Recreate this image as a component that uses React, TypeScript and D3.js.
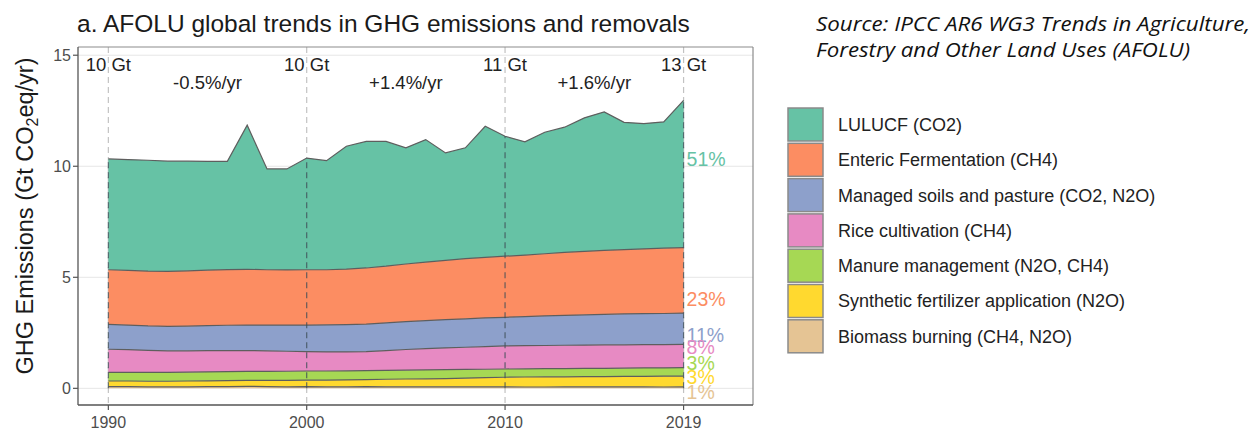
import React from "react";
import * as d3 from "d3";

// ---- data ----
const years = [1990,1991,1992,1993,1994,1995,1996,1997,1998,1999,2000,2001,2002,2003,2004,2005,2006,2007,2008,2009,2010,2011,2012,2013,2014,2015,2016,2017,2018,2019];

const biomass = [0.08,0.08,0.07,0.07,0.07,0.08,0.08,0.09,0.08,0.07,0.08,0.07,0.07,0.08,0.07,0.07,0.07,0.07,0.07,0.07,0.07,0.06,0.06,0.07,0.07,0.07,0.07,0.07,0.06,0.07];
const fertilizer = [0.25,0.25,0.25,0.25,0.26,0.26,0.27,0.27,0.28,0.29,0.29,0.30,0.31,0.31,0.34,0.35,0.36,0.37,0.39,0.41,0.43,0.45,0.46,0.45,0.46,0.46,0.47,0.47,0.49,0.48];
const manure = [0.39,0.39,0.40,0.40,0.40,0.40,0.40,0.40,0.40,0.41,0.41,0.41,0.41,0.41,0.40,0.40,0.40,0.40,0.39,0.38,0.37,0.37,0.37,0.37,0.37,0.37,0.37,0.38,0.37,0.38];
const rice = [1.04,1.02,0.99,0.97,0.96,0.96,0.95,0.94,0.93,0.90,0.87,0.86,0.85,0.85,0.89,0.93,0.96,0.98,1.00,1.02,1.04,1.04,1.04,1.05,1.05,1.06,1.05,1.05,1.05,1.05];
const soils = [1.12,1.11,1.10,1.10,1.11,1.12,1.14,1.15,1.16,1.18,1.20,1.22,1.23,1.24,1.25,1.25,1.26,1.27,1.28,1.29,1.29,1.31,1.33,1.35,1.36,1.37,1.39,1.39,1.40,1.41];
const enteric = [2.46,2.46,2.47,2.48,2.49,2.50,2.51,2.51,2.49,2.48,2.49,2.48,2.50,2.53,2.55,2.60,2.63,2.67,2.71,2.73,2.75,2.77,2.80,2.83,2.86,2.88,2.90,2.92,2.94,2.95];
const lulucf = [4.99,4.99,4.99,4.96,4.94,4.90,4.87,6.49,4.54,4.55,5.03,4.91,5.53,5.70,5.62,5.23,5.52,4.84,4.99,5.90,5.40,5.10,5.47,5.64,6.01,6.24,5.73,5.64,5.69,6.63];

// bottom -> top stacking order
const seriesKeys = ["biomass","fertilizer","manure","rice","soils","enteric","lulucf"];
const seriesValues: Record<string, number[]> = { biomass, fertilizer, manure, rice, soils, enteric, lulucf };
const seriesColors: Record<string, string> = {
  lulucf: "#66c2a5",
  enteric: "#fc8d62",
  soils: "#8da0cb",
  rice: "#e78ac3",
  manure: "#a6d854",
  fertilizer: "#ffd92f",
  biomass: "#e5c494",
};

// legend (top -> bottom)
const legendKeys = ["lulucf","enteric","soils","rice","manure","fertilizer","biomass"];
const legendLabels = [
  "LULUCF (CO2)",
  "Enteric Fermentation (CH4)",
  "Managed soils and pasture (CO2, N2O)",
  "Rice cultivation (CH4)",
  "Manure management (N2O, CH4)",
  "Synthetic fertilizer application (N2O)",
  "Biomass burning (CH4, N2O)",
];

// share labels at 2019
const shareKeys = ["lulucf","enteric","soils","rice","manure","fertilizer","biomass"];
const shareLabels = ["51%","23%","11%","8%","3%","3%","1%"];
const shareLabelY = [10.33, 4.03, 2.41, 1.86, 1.15, 0.51, -0.17];

// period annotations
const markerYears = [1990, 2000, 2010, 2019];
const markerLabels = ["10 Gt", "10 Gt", "11 Gt", "13 Gt"];
const rateYears = [1995, 2005, 2014.5];
const rateLabels = ["-0.5%/yr", "+1.4%/yr", "+1.6%/yr"];

const yTicks = [0, 5, 10, 15];
const xTicks = [1990, 2000, 2010, 2019];

const sourceLines = [
  "Source: IPCC AR6 WG3 Trends in Agriculture,",
  "Forestry and Other Land Uses (AFOLU)",
];

const FONT = "'Liberation Sans', Arial, Helvetica, sans-serif";

export default function App() {
  const W = 1253, H = 432;
  const left = 78, right = 753, top = 47, bottom = 405;

  const x = d3.scaleLinear().domain([1988.47, 2022.5]).range([left, right]);
  const y = d3.scaleLinear().domain([-0.75, 15.37]).range([bottom, top]);

  const rows = years.map((yr, i) => {
    const r: any = { year: yr };
    seriesKeys.forEach((k) => (r[k] = seriesValues[k][i]));
    return r;
  });
  const stacked = d3.stack<any>().keys(seriesKeys)(rows);
  const totals = rows.map((r) => seriesKeys.reduce((s, k) => s + r[k], 0));

  const area = d3
    .area<any>()
    .x((d) => x(d.data.year))
    .y0((d) => y(d[0]))
    .y1((d) => y(d[1]));
  const topLine = d3
    .line<any>()
    .x((d) => x(d.data.year))
    .y((d) => y(d[1]));

  const legendX = 788, legendY = 108, keyW = 35, keyH = 33, keyStep = 35.3;

  return (
    <>
      <style>{`body{margin:0}`}</style>
      <svg width={W} height={H} style={{ display: "block", background: "#fff" }} fontFamily={FONT}>
        {/* title */}
        <text x={77} y={32} fontSize={24.5} fill="#1a1a1a">
          a. AFOLU global trends in GHG emissions and removals
        </text>

        {/* source */}
        <g fontFamily="'Open Sans', Lato, sans-serif" fontStyle="italic" fontSize={20} fill="#111">
          <text x={816} y={31} textLength={434} lengthAdjust="spacingAndGlyphs">{sourceLines[0]}</text>
          <text x={816} y={57} textLength={374} lengthAdjust="spacingAndGlyphs">{sourceLines[1]}</text>
        </g>

        {/* grid */}
        {yTicks.map((t) => (
          <line key={"g" + t} x1={left} x2={right} y1={y(t)} y2={y(t)} stroke="#e6e6e6" strokeWidth={1} />
        ))}

        {/* light dashed verticals full height */}
        {markerYears.map((yr) => (
          <line key={"lv" + yr} x1={x(yr)} x2={x(yr)} y1={top} y2={bottom} stroke="#c2c2c2" strokeWidth={1.2} strokeDasharray="6,4" />
        ))}

        {/* areas */}
        {stacked.map((s) => (
          <path key={s.key} d={area(s as any) || ""} fill={seriesColors[s.key]} stroke="none" />
        ))}
        {stacked.map((s) => (
          <path key={"l" + s.key} d={topLine(s as any) || ""} fill="none" stroke="#5e5e5e" strokeWidth={1.2} />
        ))}

        {/* dark dashed verticals over areas */}
        {markerYears.map((yr) => (
          <line
            key={"dv" + yr}
            x1={x(yr)}
            x2={x(yr)}
            y1={y(0)}
            y2={y(totals[years.indexOf(yr)])}
            stroke="#3f4f57"
            strokeOpacity={0.8}
            strokeWidth={1.2}
            strokeDasharray="6,4"
          />
        ))}

        {/* marker labels */}
        {markerYears.map((yr, i) => (
          <text key={"ml" + yr} x={x(yr)} y={y(14.3)} fontSize={18.5} fill="#222" textAnchor="middle">
            {markerLabels[i]}
          </text>
        ))}
        {rateYears.map((yr, i) => (
          <text key={"rl" + i} x={x(yr)} y={y(13.5)} fontSize={18.5} fill="#222" textAnchor="middle">
            {rateLabels[i]}
          </text>
        ))}

        {/* share labels */}
        {shareKeys.map((k, i) => (
          <text
            key={"sl" + k + i}
            x={x(2019) + 3}
            y={y(shareLabelY[i])}
            dy="0.36em"
            fontSize={19.5}
            fill={seriesColors[k]}
          >
            {shareLabels[i]}
          </text>
        ))}

        {/* panel border */}
        <line x1={left} x2={right} y1={top} y2={top} stroke="#8c8c8c" strokeWidth={1.2} />
        <line x1={right} x2={right} y1={top} y2={bottom} stroke="#8c8c8c" strokeWidth={1.2} />
        <line x1={left} x2={left} y1={top} y2={bottom} stroke="#555" strokeWidth={1.3} />
        <line x1={left} x2={right} y1={bottom} y2={bottom} stroke="#555" strokeWidth={1.3} />

        {/* y axis */}
        {yTicks.map((t) => (
          <g key={"yt" + t}>
            <line x1={left - 5} x2={left} y1={y(t)} y2={y(t)} stroke="#555" strokeWidth={1.2} />
            <text x={left - 7} y={y(t)} dy="0.35em" textAnchor="end" fontSize={16} fill="#4d4d4d">
              {t}
            </text>
          </g>
        ))}
        {/* x axis */}
        {xTicks.map((t) => (
          <g key={"xt" + t}>
            <line x1={x(t)} x2={x(t)} y1={bottom} y2={bottom + 5} stroke="#555" strokeWidth={1.2} />
            <text x={x(t)} y={bottom + 23} textAnchor="middle" fontSize={16} fill="#4d4d4d">
              {t}
            </text>
          </g>
        ))}

        {/* y axis title */}
        <text transform={`translate(33,${216}) rotate(-90)`} textAnchor="middle" fontSize={23.5} fill="#1a1a1a">
          GHG Emissions (Gt CO
          <tspan fontSize={16} dy={5}>2</tspan>
          <tspan dy={-5}>eq/yr)</tspan>
        </text>

        {/* legend */}
        {legendKeys.map((k, i) => (
          <g key={"lg" + k}>
            <rect
              x={legendX}
              y={legendY + i * keyStep}
              width={keyW}
              height={keyH}
              fill={seriesColors[k]}
              stroke="#8a8a8a"
              strokeWidth={1.5}
            />
            <text x={838} y={legendY + i * keyStep + keyH / 2} dy="0.36em" fontSize={18} fill="#222">
              {legendLabels[i]}
            </text>
          </g>
        ))}
      </svg>
    </>
  );
}
